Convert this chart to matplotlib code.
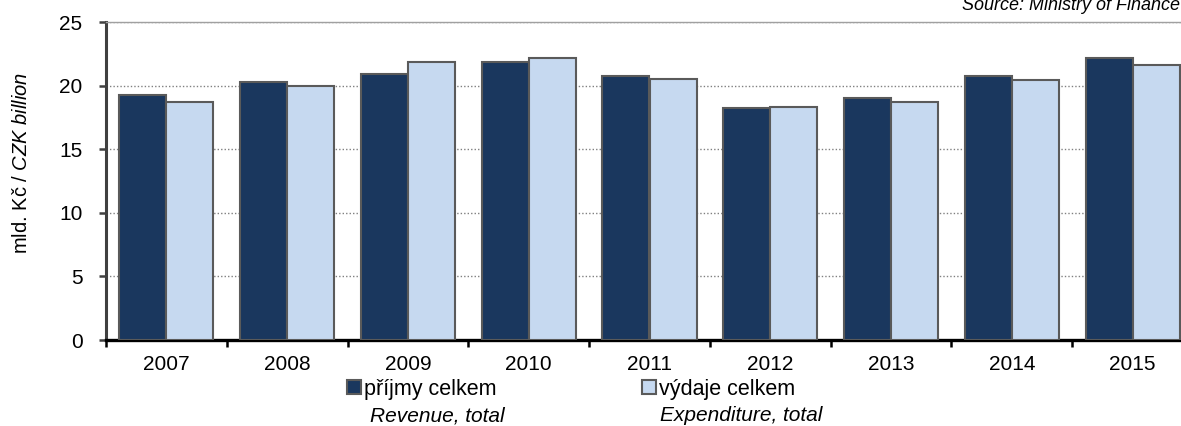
import matplotlib
matplotlib.use("Agg")
import matplotlib.pyplot as plt
from matplotlib.patches import Patch
import numpy as np

plt.rcParams['font.family'] = ['Liberation Sans', 'DejaVu Sans']
plt.rcParams['mathtext.fontset'] = 'custom'
plt.rcParams['mathtext.rm'] = 'Liberation Sans'
plt.rcParams['mathtext.it'] = 'Liberation Sans:italic'

years = ["2007", "2008", "2009", "2010", "2011", "2012", "2013", "2014", "2015"]
revenue = [19.3, 20.3, 20.9, 21.85, 20.75, 18.2, 19.0, 20.75, 22.15]
expenditure = [18.7, 19.95, 21.85, 22.15, 20.55, 18.35, 18.7, 20.45, 21.65]
label_rev = "příjmy celkem"
label_exp = "výdaje celkem"
label_rev_en = "Revenue, total"
label_exp_en = "Expenditure, total"
yticks = [0, 5, 10, 15, 20, 25]

col_rev = "#1a375e"
col_exp = "#c6d9f0"
edge = "#5a5a5a"

W, H = 1181, 426
fig = plt.figure(figsize=(W / 100, H / 100), dpi=100)
ax = fig.add_axes([106 / W, (H - 340) / H, 1087 / W, 318 / H])

x = np.arange(len(years))
bw = 0.39
ax.bar(x - bw / 2, revenue, width=bw, color=col_rev, edgecolor=edge, linewidth=1.5, zorder=3)
ax.bar(x + bw / 2, expenditure, width=bw, color=col_exp, edgecolor=edge, linewidth=1.5, zorder=3)

ax.set_xlim(-0.5, len(years) - 0.5)
ax.set_ylim(0, 25)
ax.set_yticks(yticks)
ax.yaxis.grid(True, color="#808080", linestyle=(0, (1, 1.5)), linewidth=1.0, zorder=0)
ax.set_axisbelow(True)

ax.set_xticks(x)
ax.set_xticklabels(years)
ax.set_xticks(np.arange(-0.5, len(years)), minor=True)
ax.tick_params(axis='x', which='major', length=0, pad=11, labelsize=15, colors='black')
ax.tick_params(axis='x', which='minor', length=5, width=1.8, direction='out', color='black')
ax.tick_params(axis='y', which='major', length=5, width=1.8, direction='out', color='#404040',
               pad=12, labelsize=15, labelcolor='black')

ax.spines['left'].set_color('#404040')
ax.spines['left'].set_linewidth(2.2)
ax.spines['bottom'].set_color('black')
ax.spines['bottom'].set_linewidth(2.4)
ax.spines['top'].set_color('#a0a0a0')
ax.spines['top'].set_linewidth(1.0)
ax.spines['right'].set_visible(False)

fig.text(22 / W, 1 - 163 / H, r"mld. Kč / $\mathit{CZK\ billion}$", rotation=90,
         ha='center', va='center', fontsize=14.5)

fig.text(1180 / W, 1 - 10 / H, "Source: Ministry of Finance", ha='right', va='baseline',
         fontsize=13, style='italic')

h1 = Patch(facecolor=col_rev, edgecolor=edge, linewidth=1.5)
h2 = Patch(facecolor=col_exp, edgecolor=edge, linewidth=1.5)
common = dict(loc='center left', frameon=False, handlelength=0.65, handleheight=0.65,
              handletextpad=0.12, borderpad=0, borderaxespad=0, fontsize=15.5)
fig.legend(handles=[h1], labels=[label_rev], bbox_to_anchor=(347 / W, 1 - 389 / H), **common)
fig.legend(handles=[h2], labels=[label_exp], bbox_to_anchor=(642 / W, 1 - 389 / H), **common)

fig.text(370 / W, 1 - 421 / H, label_rev_en, ha='left', va='baseline', fontsize=15, style='italic')
fig.text(660 / W, 1 - 421 / H, label_exp_en, ha='left', va='baseline', fontsize=15, style='italic')

fig.savefig("out.png", dpi=100)
